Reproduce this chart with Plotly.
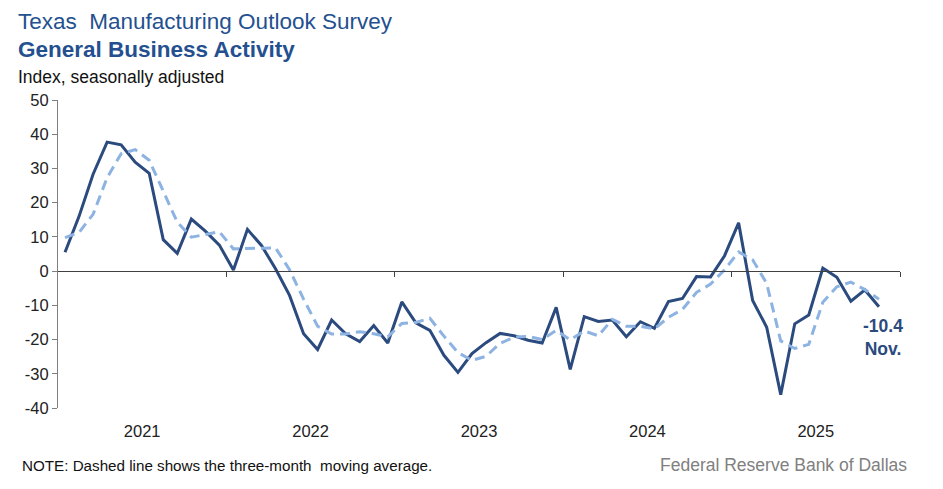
import plotly.graph_objects as go

months = [f"{y}-{m:02d}" for y in range(2021, 2026) for m in range(1, 13)][:59]

activity = [5.5, 16.0, 28.3, 37.7, 36.9, 31.8, 28.6, 9.2, 5.2, 15.2, 11.7, 7.6,
            0.3, 12.2, 7.5, 0.7, -7.1, -18.3, -22.9, -14.3, -18.3, -20.6, -15.9, -21.0,
            -9.0, -15.1, -17.3, -24.6, -29.6, -24.1, -20.9, -18.2, -18.9, -20.2, -21.0, -10.6,
            -28.7, -13.3, -14.7, -14.3, -19.2, -14.8, -16.7, -8.9, -8.0, -1.6, -1.7, 4.5,
            14.1, -8.6, -16.4, -36.1, -15.4, -12.8, 0.9, -1.8, -8.8, -5.5, -10.4]

moving_avg = [9.8, 11.3, 16.6, 27.3, 34.3, 35.5, 32.4, 23.2, 14.3, 9.9, 10.7, 11.5,
              6.5, 6.7, 6.7, 6.8, 0.4, -8.2, -16.1, -18.4, -18.4, -17.7, -18.3, -19.2,
              -15.3, -15.0, -13.8, -19.0, -23.8, -26.1, -24.9, -21.1, -19.3, -19.1, -20.0, -17.3,
              -20.1, -17.5, -18.9, -14.1, -16.1, -16.1, -16.9, -13.5, -11.2, -6.2, -3.8, 0.4,
              5.6, 3.3, -3.6, -20.4, -22.6, -21.4, -9.1, -4.6, -3.2, -5.4, -8.2]

year_labels = ["2021", "2022", "2023", "2024", "2025"]
y_ticks = list(range(-40, 51, 10))

idx = list(range(len(activity)))
n_slots = 60
year_centers = [12 * k + 5.5 for k in range(len(year_labels))]
year_bounds = [12 * k + 11.5 for k in range(len(year_labels))]

MAIN = "#2B4A7E"
LIGHT = "#8DB3E2"
TITLE = "#24508F"
FONT = "Liberation Sans, Arial, sans-serif"

W, H = 943, 489
L, R, T, B = 58, 43, 100, 81
PW, PH = W - L - R, H - T - B


def px(x):
    return (x - L) / PW


def py(y):
    return (H - B - y) / PH


fig = go.Figure()
fig.add_trace(go.Scatter(x=idx, y=moving_avg, mode="lines", xaxis="x2", yaxis="y",
                         line=dict(color=LIGHT, width=3, dash="10px,6px"),
                         hoverinfo="skip", showlegend=False))
fig.add_trace(go.Scatter(x=idx, y=activity, mode="lines",
                         line=dict(color=MAIN, width=3),
                         customdata=months, hovertemplate="%{customdata}: %{y}<extra></extra>",
                         showlegend=False))

fig.update_layout(
    width=W, height=H,
    margin=dict(l=L, r=R, t=T, b=B),
    paper_bgcolor="white", plot_bgcolor="white",
    font=dict(family=FONT, size=16, color="#222222"),
    xaxis=dict(range=[-0.5, n_slots - 0.5], tickmode="array", tickvals=year_centers,
               ticktext=year_labels, ticks="", showline=False, showgrid=False,
               zeroline=False, ticklabelstandoff=11, tickfont=dict(size=16.5, color="#222222")),
    xaxis2=dict(range=[-0.5, n_slots - 0.5], overlaying="x", anchor="free",
                position=40 / 90, tickmode="array", tickvals=year_bounds,
                ticks="outside", ticklen=5, tickcolor="#404040", tickwidth=1,
                showticklabels=False, showline=True, linecolor="#404040", linewidth=1.3,
                showgrid=False, zeroline=False),
    yaxis=dict(range=[-40, 50], tickmode="array", tickvals=y_ticks,
               ticktext=[str(v) for v in y_ticks],
               ticks="outside", ticklen=5, tickcolor="#7F7F7F", showline=True,
               linecolor="#7F7F7F", linewidth=1, showgrid=False, zeroline=False,
               tickfont=dict(size=16.5, color="#222222")),
    hovermode="closest",
)

ann = []
ann.append(dict(text="Texas  Manufacturing Outlook Survey", x=px(16), y=py(22),
                xref="paper", yref="paper", showarrow=False, xanchor="left", yanchor="middle",
                font=dict(size=22.5, color=TITLE, family=FONT)))
ann.append(dict(text="<b>General Business Activity</b>", x=px(16), y=py(50),
                xref="paper", yref="paper", showarrow=False, xanchor="left", yanchor="middle",
                font=dict(size=22.5, color=TITLE, family=FONT)))
ann.append(dict(text="Index, seasonally adjusted", x=px(16), y=py(77),
                xref="paper", yref="paper", showarrow=False, xanchor="left", yanchor="middle",
                font=dict(size=17.5, color="#111111", family=FONT)))
ann.append(dict(text="NOTE: Dashed line shows the three-month  moving average.", x=px(20),
                y=py(466), xref="paper", yref="paper", showarrow=False,
                xanchor="left", yanchor="middle",
                font=dict(size=15.2, color="#111111", family=FONT)))
ann.append(dict(text="Federal Reserve Bank of Dallas", x=px(909), y=py(465),
                xref="paper", yref="paper", showarrow=False, xanchor="right", yanchor="middle",
                font=dict(size=17.5, color="#808080", family=FONT)))
last = len(activity) - 1
ann.append(dict(text=f"<b>{activity[last]}<br>Nov.</b>", x=last, y=activity[last],
                xref="x", yref="y", showarrow=False, xanchor="center", yanchor="middle",
                align="center", xshift=4, yshift=-31,
                font=dict(size=17.5, color=MAIN, family=FONT)))
fig.update_layout(annotations=ann)

fig.write_html("out.html", config={"displayModeBar": False},
               post_script="document.body.style.margin='0';")
